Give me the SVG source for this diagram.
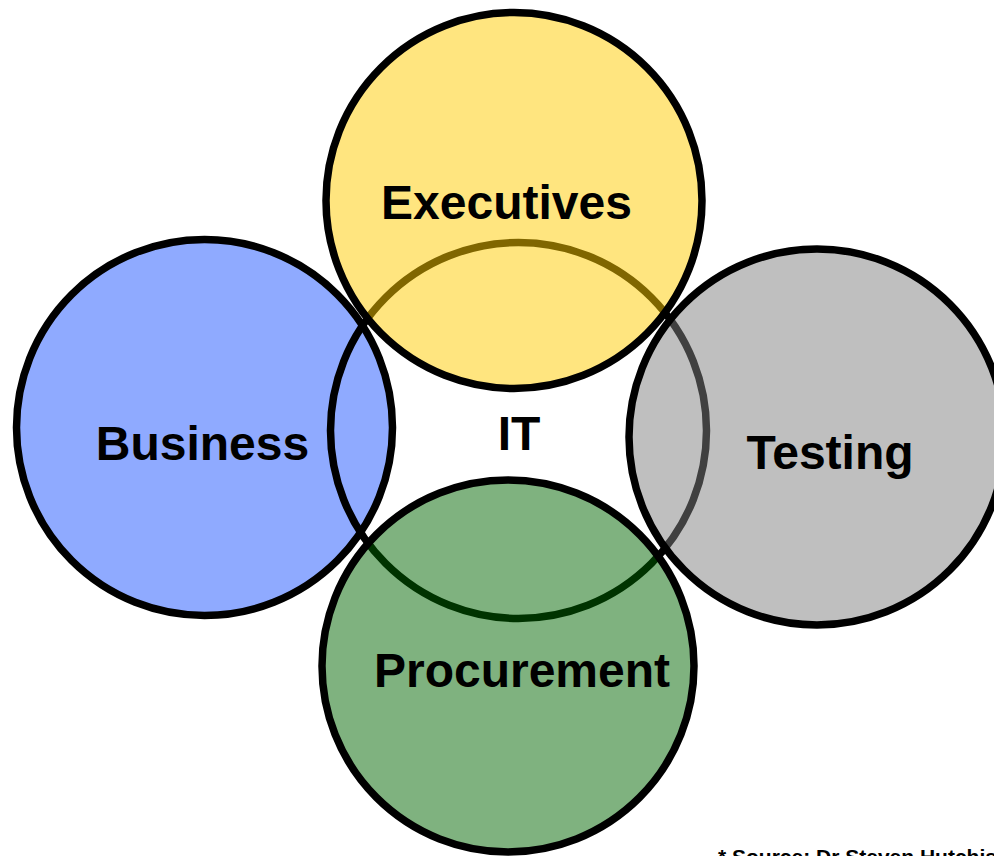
<svg xmlns="http://www.w3.org/2000/svg" width="994" height="856" viewBox="0 0 994 856">
  <style>
    .ring { stroke: #000; stroke-width: 7.5; }
    .label { font-family: "Liberation Sans", Arial, sans-serif; font-weight: bold; font-size: 48px; fill: #000; text-anchor: middle; }
    .note { font-family: "Liberation Sans", Arial, sans-serif; font-weight: bold; font-size: 21px; fill: #000; }
  </style>
  <rect width="994" height="856" fill="#fff"/>

  <!-- Business sits beneath the IT ring -->
  <g id="business">
    <circle class="ring" cx="204.5" cy="427.5" r="188" fill="#8FAAFF"/>
  </g>

  <!-- IT: outline only, centre of the arrangement -->
  <g id="it">
    <circle class="ring" cx="518.5" cy="430.5" r="188" fill="none"/>
  </g>

  <!-- Translucent circles drawn over the IT ring -->
  <g id="executives">
    <circle class="ring" cx="514" cy="200.5" r="188" fill="#FFCC00" fill-opacity="0.5"/>
  </g>
  <g id="testing">
    <circle class="ring" cx="817" cy="437" r="188" fill="#808080" fill-opacity="0.5"/>
  </g>
  <g id="procurement">
    <circle class="ring" cx="508" cy="666" r="186" fill="#006600" fill-opacity="0.5"/>
  </g>

  <g id="connectors"/>

  <g id="labels">
    <text class="label" x="506.5" y="219">Executives</text>
    <text class="label" x="202.5" y="460">Business</text>
    <text class="label" x="519" y="450">IT</text>
    <text class="label" x="830" y="469">Testing</text>
    <text class="label" x="522" y="687">Procurement</text>
  </g>

  <!-- footnote runs past the bottom-right corner of the page -->
  <text class="note" x="718" y="864">* Source: Dr Steven Hutchison</text>
</svg>
